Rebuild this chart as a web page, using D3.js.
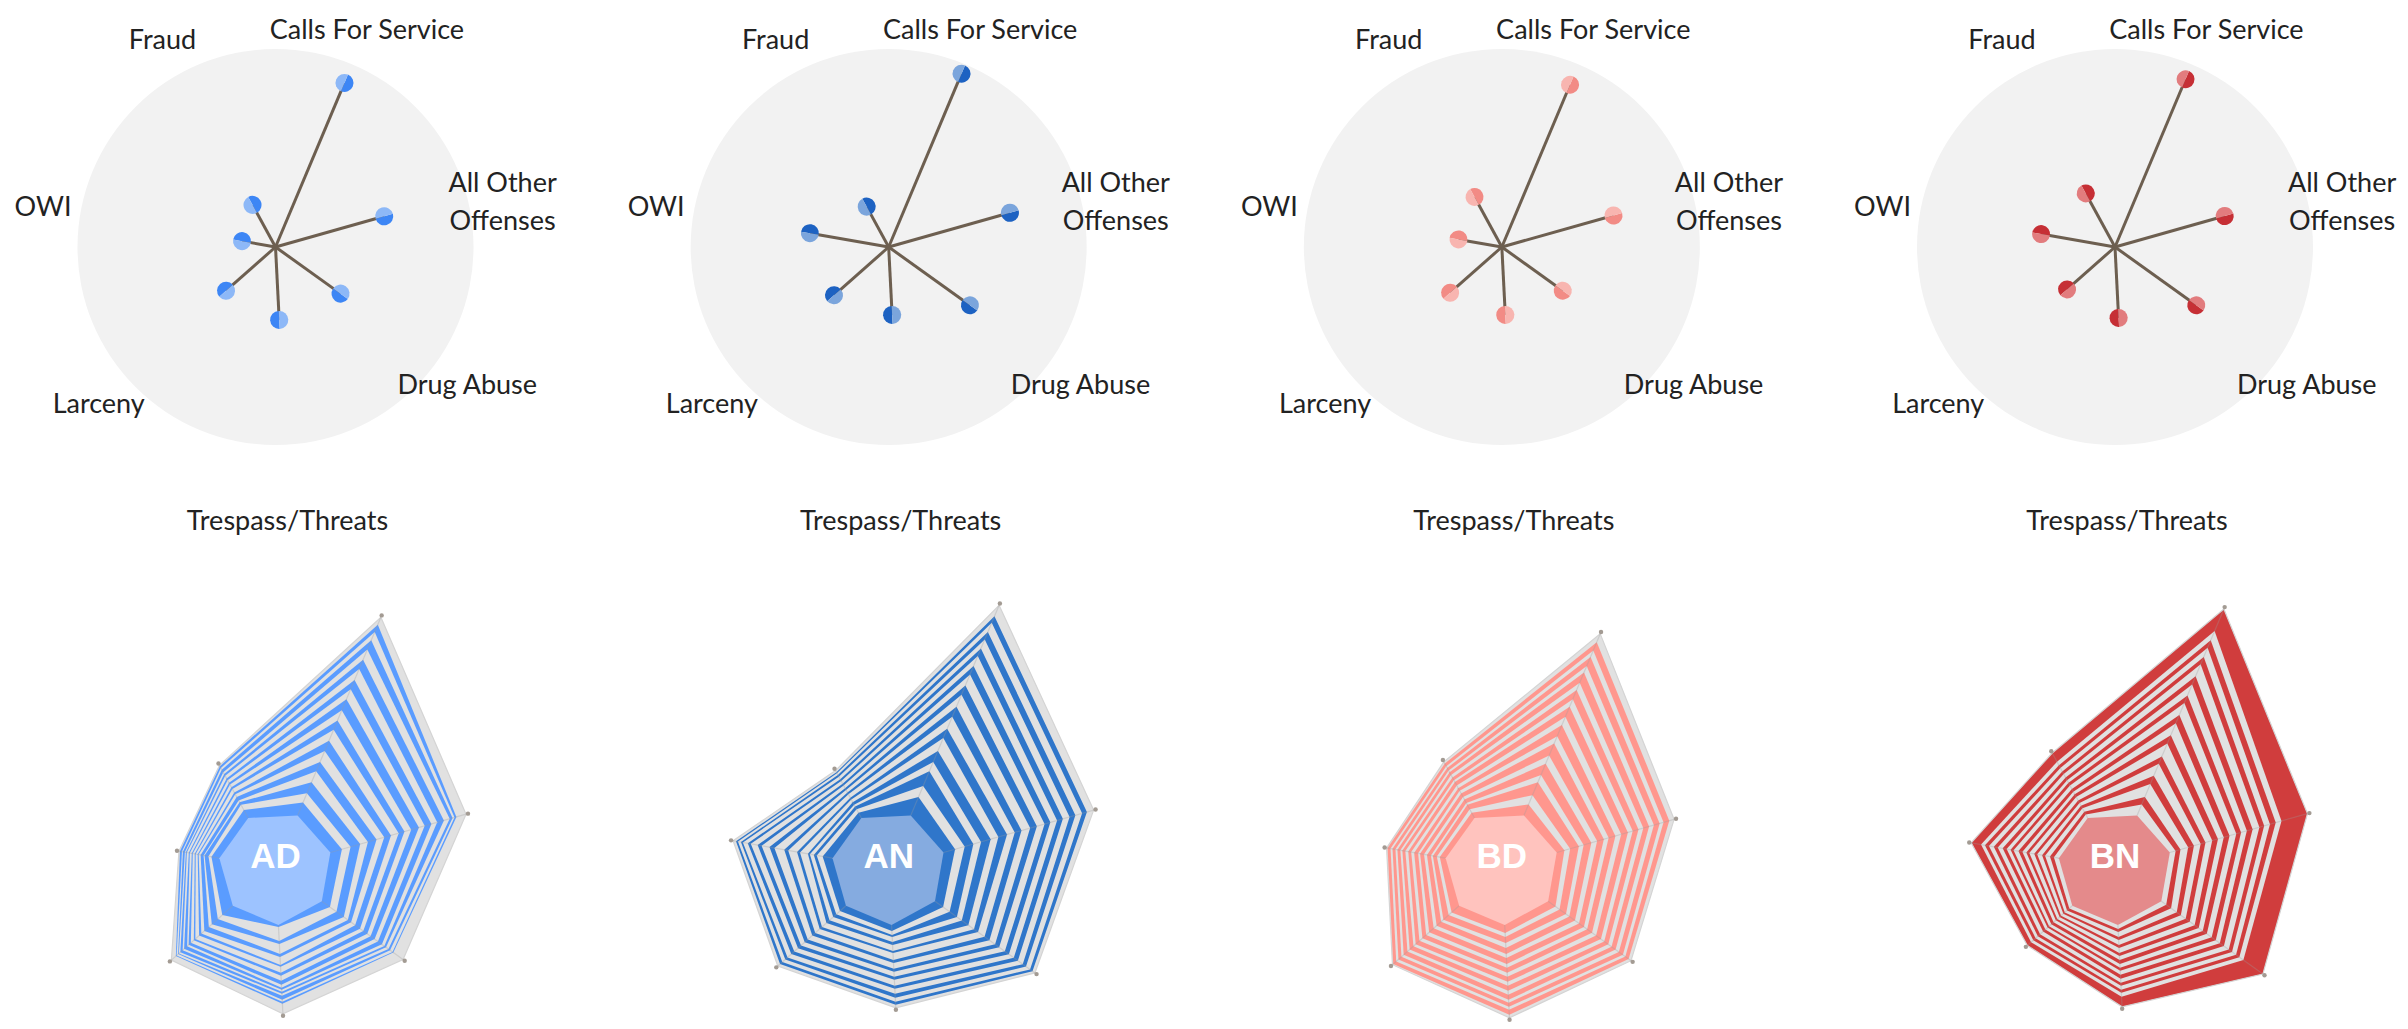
<!DOCTYPE html>
<html>
<head>
<meta charset="utf-8">
<script src="https://cdn.jsdelivr.net/npm/d3@7/dist/d3.min.js"></script>
<style>
  body { margin: 0; background: #fff; }
  svg { display: block; }
  .axis-label { font-family: Lato, "Open Sans", sans-serif; font-size: 27px; fill: #222; }
  .group-label { font-family: "Liberation Sans", Arial, sans-serif; font-weight: bold; font-size: 35px; fill: #fff; }
</style>
</head>
<body>
<div id="chart"></div>
<script>
// categories (clockwise from the top-right)
var AXES = ["Calls For Service", "All Other Offenses", "Drug Abuse", "Trespass/Threats", "Larceny", "OWI", "Fraud"];
var AXIS_LINES = [["Calls For Service"], ["All Other", "Offenses"], ["Drug Abuse"], ["", "Trespass/Threats"], ["Larceny"], ["OWI"], ["Fraud"]];
var GROUPS = ["AD", "AN", "BD", "BN"];

// top star values, one per axis
var starAD = [178, 113, 80, 73, 66, 34, 48];
var starAN = [188, 126, 100, 68, 73, 80, 46];
var starBD = [176, 116, 75, 68, 69, 44, 57];
var starBN = [182, 114, 100, 71, 64, 75, 61];

// bottom stacked radar: one row per layer (inner -> outer), one value per axis
var layersAD = [
  [14, 12, 10, 2, 14, 8, 9], [10, 9, 8, 14, 6, 3, 6], [12, 10, 9, 3, 8, 4, 3], [12, 8, 5, 10, 4, 1, 2],
  [10, 9, 4, 3, 6, 3, 4], [12, 8, 5, 8, 4, 2, 3], [11, 7, 6, 2, 3, 1, 2], [12, 8, 4, 6, 5, 2, 4],
  [10, 6, 5, 3, 2, 1, 2], [11, 7, 4, 5, 4, 2, 3], [12, 8, 5, 4, 3, 1, 2], [11, 6, 4, 3, 2, 2, 3],
  [10, 7, 5, 2, 4, 1, 2], [12, 6, 3, 2, 2, 2, 3], [10, 7, 2, 2, 3, 1, 2], [11, 6, 3, 2, 2, 1, 2],
  [10, 3, 2, 4, 1, 2, 3], [9, 2, 3, 2, 2, 1, 2], [8, 2, 1, 2, 1, 2, 2], [8, 10, 12, 10, 6, 1, 1]
];
var layersAN = [
  [20, 12, 10, 6, 8, 10, 6], [12, 10, 8, 4, 5, 6, 4], [16, 9, 9, 2, 4, 3, 3], [10, 8, 6, 5, 5, 4, 2],
  [12, 10, 8, 3, 4, 2, 3], [14, 8, 7, 6, 6, 8, 3], [10, 9, 5, 2, 3, 3, 2], [13, 8, 8, 7, 6, 9, 4],
  [11, 7, 6, 3, 4, 4, 2], [13, 9, 7, 6, 6, 10, 3], [10, 7, 5, 3, 4, 5, 2], [12, 8, 7, 5, 5, 8, 3],
  [9, 6, 5, 3, 4, 4, 2], [11, 7, 6, 6, 5, 7, 3], [8, 6, 5, 3, 4, 3, 2], [10, 7, 6, 5, 5, 5, 3],
  [8, 6, 4, 4, 3, 2, 2], [10, 7, 5, 4, 4, 3, 2], [7, 5, 3, 3, 3, 2, 1], [12, 7, 3, 3, 3, 3, 2]
];
var layersBD = [
  [12, 8, 9, 8, 10, 6, 6], [10, 6, 5, 4, 4, 3, 4], [14, 9, 8, 6, 7, 4, 5], [8, 5, 4, 5, 3, 2, 2],
  [12, 8, 7, 6, 6, 4, 4], [9, 6, 5, 4, 4, 3, 3], [13, 7, 6, 6, 6, 4, 4], [8, 5, 4, 4, 4, 2, 3],
  [12, 7, 6, 5, 5, 4, 3], [9, 6, 5, 4, 4, 3, 3], [11, 7, 6, 5, 5, 3, 4], [8, 5, 4, 4, 3, 3, 2],
  [10, 6, 5, 5, 5, 3, 3], [8, 5, 4, 4, 3, 2, 3], [11, 6, 5, 5, 5, 3, 3], [7, 5, 4, 3, 3, 2, 2],
  [10, 6, 5, 4, 4, 3, 3], [7, 4, 3, 3, 3, 2, 2], [9, 6, 4, 5, 4, 3, 3], [9, 5, 3, 3, 1, 1, 2]
];
var layersBN = [
  [12, 6, 6, 4, 4, 5, 4], [8, 5, 6, 3, 3, 4, 3], [14, 8, 7, 5, 3, 5, 4], [9, 6, 5, 3, 2, 3, 3],
  [13, 7, 6, 5, 3, 5, 3], [8, 5, 5, 3, 2, 3, 3], [14, 7, 6, 5, 3, 5, 4], [9, 6, 5, 3, 2, 3, 3],
  [13, 6, 5, 4, 3, 4, 3], [9, 6, 5, 4, 3, 4, 3], [13, 7, 6, 4, 3, 5, 4], [8, 5, 5, 3, 2, 3, 3],
  [12, 6, 5, 4, 3, 4, 3], [9, 6, 5, 4, 3, 4, 3], [13, 7, 6, 4, 4, 5, 4], [8, 5, 4, 3, 3, 4, 3],
  [10, 6, 5, 4, 3, 5, 4], [8, 6, 4, 3, 3, 4, 3], [10, 6, 5, 4, 3, 4, 4], [24, 27, 24, 10, 5, 10, 10]
];

var PANELS = [
  { name: "AD", star: starAD, layers: layersAD, firstColored: true,
    band: "#5a9cff", core: "#9dc3ff", dark: "#3d86f5", light: "#8db8f7" },
  { name: "AN", star: starAN, layers: layersAN, firstColored: true,
    band: "#2f76ca", core: "#85abe0", dark: "#1d62c2", light: "#7ba5dc" },
  { name: "BD", star: starBD, layers: layersBD, firstColored: true,
    band: "#ff978e", core: "#ffc3be", dark: "#f28b85", light: "#f8b5b0" },
  { name: "BN", star: starBN, layers: layersBN, firstColored: false,
    band: "#d03d3d", core: "#e48a8b", dark: "#c62f35", light: "#e27c7e" }
];

var GRAY = "#e1e1e1";
var W = 2408, H = 1029;
var STAR_Y = 247, RADAR_Y = 868, CIRCLE_R = 198, LABEL_R = 236, LINE_H = 38;
var A0 = 22.8 * Math.PI / 180;

var panelX = d3.scalePoint().domain(GROUPS).range([275.5, 2115]);
var angle = d3.scalePoint().domain(AXES).range([A0, A0 + 2 * Math.PI * 6 / 7]);
var starR = d3.scaleLinear().domain([0, 200]).range([0, 200]);
var bandR = d3.scaleLinear().domain([0, 230]).range([57, 287]);

var svg = d3.select("#chart").append("svg").attr("width", W).attr("height", H);
svg.append("rect").attr("width", W).attr("height", H).attr("fill", "#fff");

var polar = (a, r) => [r * Math.sin(a), -r * Math.cos(a)];

PANELS.forEach(function(p) {
  var cx = panelX(p.name);

  // top star
  var top = svg.append("g").attr("transform", `translate(${cx},${STAR_Y})`);
  top.append("circle").attr("r", CIRCLE_R).attr("fill", "#f2f2f2");

  var pts = AXES.map((a, k) => ({ axis: a, a: angle(a), v: p.star[k] }));

  top.selectAll("line.spoke").data(pts).enter().append("line")
    .attr("class", "spoke")
    .attr("x1", 0).attr("y1", 0)
    .attr("x2", d => polar(d.a, starR(d.v))[0])
    .attr("y2", d => polar(d.a, starR(d.v))[1])
    .attr("stroke", "#6d5f50").attr("stroke-width", 3);

  var dotArc = d3.arc().innerRadius(0).outerRadius(9);
  var dots = top.selectAll("g.dot").data(pts).enter().append("g")
    .attr("class", "dot")
    .attr("transform", d => `translate(${polar(d.a, starR(d.v))})`);
  dots.append("path").attr("fill", p.dark)
    .attr("d", d => dotArc({ startAngle: d.a, endAngle: d.a + Math.PI }));
  dots.append("path").attr("fill", p.light)
    .attr("d", d => dotArc({ startAngle: d.a + Math.PI, endAngle: d.a + 2 * Math.PI }));

  var labels = top.selectAll("text.axis-label").data(AXES).enter().append("text")
    .attr("class", "axis-label")
    .attr("text-anchor", "middle")
    .attr("transform", d => `translate(${polar(angle(d), LABEL_R)})`);
  labels.each(function(d, k) {
    var t = d3.select(this);
    AXIS_LINES[k].forEach(function(line, j) {
      t.append("tspan").attr("x", 0).attr("y", j * LINE_H).attr("dy", "0.35em").text(line);
    });
  });

  // bottom stacked radar
  var bot = svg.append("g").attr("transform", `translate(${cx},${RADAR_Y})`);
  var cum = [];
  p.layers.forEach(function(row, i) {
    cum.push(row.map((v, k) => v + (i ? cum[i - 1][k] : 0)));
  });
  var radial = d3.lineRadial()
    .angle((d, k) => angle(AXES[k]))
    .radius(d => bandR(d))
    .curve(d3.curveLinearClosed);

  var order = cum.map((c, i) => ({ c: c, i: i })).reverse();
  bot.selectAll("path.band").data(order).enter().append("path")
    .attr("class", "band")
    .attr("d", d => radial(d.c))
    .attr("fill", d => ((d.i % 2 === 0) === p.firstColored) ? p.band : GRAY)
    .attr("stroke", (d, j) => j === 0 ? "#d4d4d4" : "none")
    .attr("stroke-width", 1.2);

  var outer = cum[cum.length - 1];
  bot.selectAll("line.grid").data(AXES).enter().append("line")
    .attr("class", "grid")
    .attr("x1", d => polar(angle(d), bandR(0))[0])
    .attr("y1", d => polar(angle(d), bandR(0))[1])
    .attr("x2", (d, k) => polar(angle(d), bandR(outer[k]))[0])
    .attr("y2", (d, k) => polar(angle(d), bandR(outer[k]))[1])
    .attr("stroke", "#9a9a9a").attr("stroke-opacity", 0.3).attr("stroke-width", 1.2);

  bot.selectAll("circle.tip").data(AXES).enter().append("circle")
    .attr("class", "tip")
    .attr("cx", (d, k) => polar(angle(d), bandR(outer[k]) + 2)[0])
    .attr("cy", (d, k) => polar(angle(d), bandR(outer[k]) + 2)[1])
    .attr("r", 2.2).attr("fill", "#a39b93");

  bot.append("path")
    .attr("d", radial(AXES.map(() => 0)))
    .attr("fill", p.core);

  bot.append("text").attr("class", "group-label")
    .attr("text-anchor", "middle").attr("y", 0)
    .text(p.name);
});
</script>
</body>
</html>
